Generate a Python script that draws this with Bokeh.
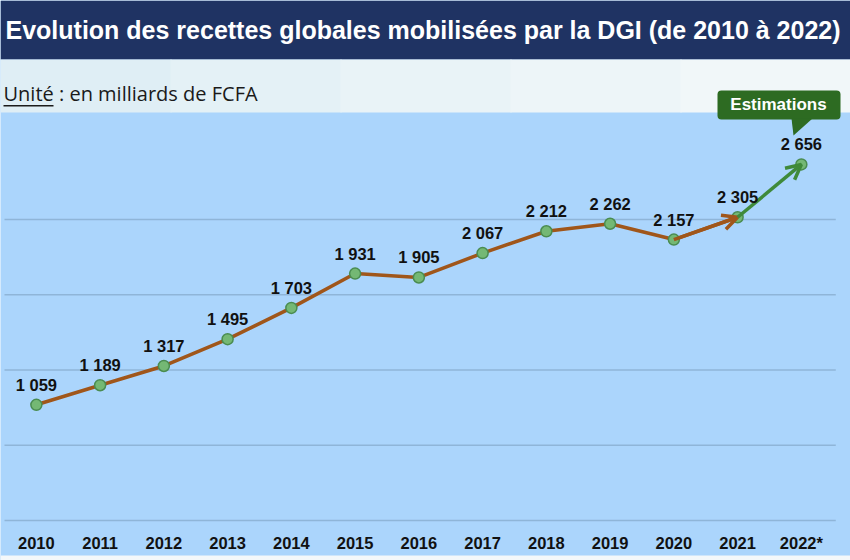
from bokeh.plotting import figure
from bokeh.models import (Range1d, ColumnDataSource, LabelSet, Label,
                          BoxAnnotation, PolyAnnotation, Arrow, OpenHead)
from bokeh.core.properties import value
from bokeh.embed import file_html
from bokeh.resources import INLINE

# Recettes globales mobilisées par la DGI, en milliards de FCFA
years = ["2010", "2011", "2012", "2013", "2014", "2015", "2016",
         "2017", "2018", "2019", "2020", "2021", "2022*"]
recettes = [1059, 1189, 1317, 1495, 1703, 1931, 1905,
            2067, 2212, 2262, 2157, 2305, 2656]
value_labels = ["1 059", "1 189", "1 317", "1 495", "1 703", "1 931", "1 905",
                "2 067", "2 212", "2 262", "2 157", "2 305", "2 656"]
grid_values = [290, 790, 1290, 1790, 2290]

title_text = "Evolution des recettes globales mobilisées par la DGI (de 2010 à 2022)"
unit_word = "Unité"
unit_rest = " : en milliards de FCFA"

W, H = 850, 560
BROWN = "#a0561a"
GREEN_LINE = "#3f8a3a"
NAVY = "#1f3363"
PLOT_BG = "#abd5fc"

idx = list(range(len(years)))

p = figure(width=W, height=H, output_backend="svg", toolbar_location=None,
           x_range=Range1d(-0.5627, 12.771), y_range=Range1d(24.4, 3745.4),
           x_axis_type=None, y_axis_type=None, min_border=0,
           background_fill_color=PLOT_BG, border_fill_color="white",
           outline_line_color=None)
p.xgrid.visible = False
p.ygrid.visible = False


def screen_box(left, right, bottom, top, color, level="underlay", **kw):
    return BoxAnnotation(left=left, right=right, bottom=bottom, top=top,
                         left_units="screen", right_units="screen",
                         bottom_units="screen", top_units="screen",
                         fill_color=color, fill_alpha=1, line_color=None,
                         level=level, **kw)


# header bar, unit band (pale blue fading to white) and bottom strip
p.add_layout(screen_box(0, W, H - 59, H, NAVY))
band_colors = ["#dfeef5", "#e4f1f6", "#e9f3f7", "#edf5f8", "#f1f7f9"]
step = W / len(band_colors)
for i, c in enumerate(band_colors):
    p.add_layout(screen_box(i * step, (i + 1) * step + 1, H - 112, H - 59, c))
p.add_layout(screen_box(0, W, 0, H - 555, "#f4f8fa"))

# horizontal gridlines
p.segment(x0=-0.5, x1=12.54, y0=grid_values, y1=grid_values,
          line_color="#8fb5d8", line_width=1.5)

src = ColumnDataSource(dict(x=idx, y=recettes, lab=value_labels, year=years))

# observed series, last observed step ends in an arrow
p.line(idx[:12], recettes[:12], line_color=BROWN, line_width=3.5)
p.add_layout(Arrow(x_start=idx[10], y_start=recettes[10],
                   x_end=idx[11], y_end=recettes[11],
                   line_color=BROWN, line_width=3.5, level="glyph",
                   end=OpenHead(size=15, line_color=BROWN, line_width=3.5)))
# estimated step
p.add_layout(Arrow(x_start=idx[11], y_start=recettes[11],
                   x_end=idx[12], y_end=recettes[12],
                   line_color=GREEN_LINE, line_width=3.5, level="glyph",
                   end=OpenHead(size=15, line_color=GREEN_LINE, line_width=3.5)))

p.scatter("x", "y", source=src, size=11, fill_color="#74b874",
          line_color="#4a8c50", line_width=1.5)

p.add_layout(LabelSet(x="x", y="y", text="lab", source=src, y_offset=20,
                      text_align="center", text_baseline="middle",
                      text_font=value("Liberation Sans"), text_font_style="bold",
                      text_font_size="16.5px", text_color="#111111"))

p.add_layout(LabelSet(x="x", y=18, y_units="screen", text="year", source=src,
                      text_align="center", text_baseline="middle",
                      text_font=value("Liberation Sans"), text_font_style="bold",
                      text_font_size="16.5px", text_color="#111111"))

# title and unit line
p.add_layout(Label(x=5, y=H - 29, x_units="screen", y_units="screen",
                   text=title_text, text_color="white",
                   text_font="Liberation Sans", text_font_style="bold",
                   text_font_size="25px", text_baseline="middle"))
p.add_layout(Label(x=3, y=H - 93, x_units="screen", y_units="screen",
                   text=unit_word + unit_rest, text_color="#1a1a1a",
                   text_font="Open Sans", text_font_size="20px",
                   text_baseline="middle"))
p.add_layout(screen_box(3, 53, H - 106, H - 104.5, "#1a1a1a", level="annotation"))

# "Estimations" callout
p.add_layout(screen_box(717, 840, H - 119, H - 90, "#2d6b22", level="overlay",
                        border_radius=4))
p.add_layout(PolyAnnotation(xs=[791, 812, 793], ys=[H - 118, H - 118, H - 135],
                            xs_units="screen", ys_units="screen",
                            fill_color="#2d6b22", fill_alpha=1, line_color=None,
                            level="overlay"))
p.add_layout(Label(x=778, y=H - 104, x_units="screen", y_units="screen",
                   text="Estimations", text_color="white",
                   text_font="Liberation Sans", text_font_style="bold",
                   text_font_size="17px", text_align="center",
                   text_baseline="middle", level="overlay"))

open("out.html", "w").write(file_html(p, INLINE))
